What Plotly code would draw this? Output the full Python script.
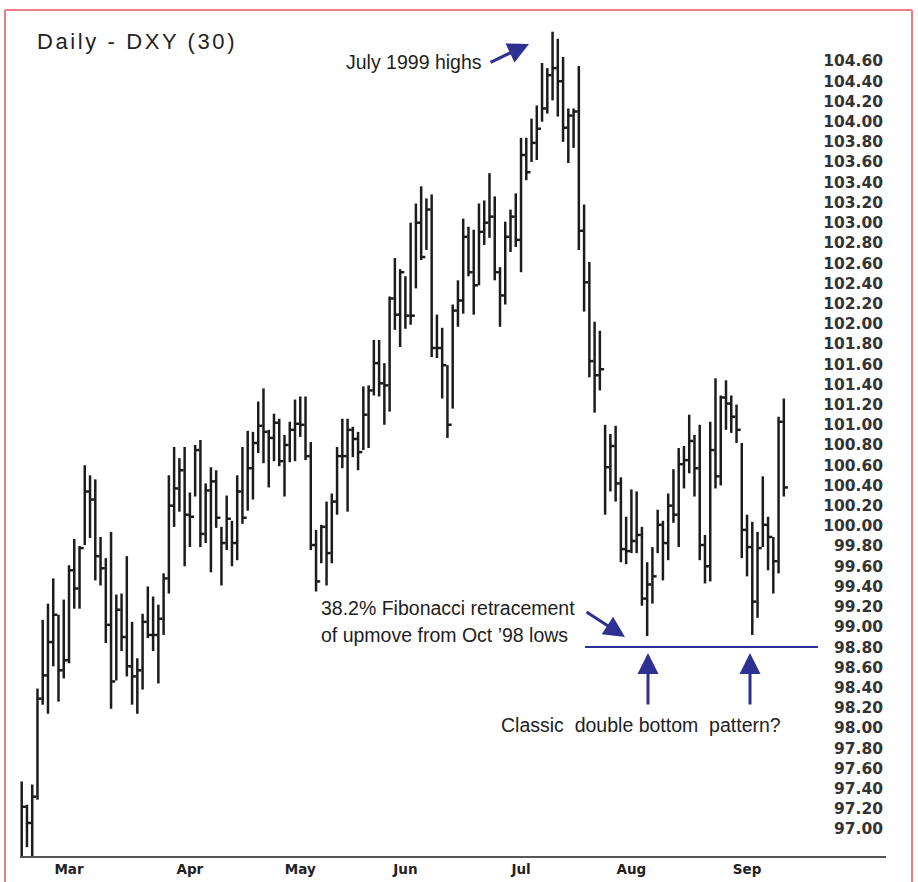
import plotly.graph_objects as go

# ---------------- data ----------------
highs = [97.47, 97.24, 97.44, 98.39, 99.07, 99.23, 99.48, 99.12, 99.27, 99.61,
         99.87, 99.80, 100.60, 100.50, 100.46, 99.89, 99.68, 99.94, 99.32, 99.33,
         99.70, 99.05, 98.69, 99.13, 99.40, 99.30, 99.22, 99.53, 100.50, 100.78,
         100.67, 100.78, 100.33, 100.80, 100.85, 100.42, 100.58, 100.55, 99.99, 100.30,
         100.05, 100.50, 100.78, 100.94, 100.93, 101.23, 101.36, 100.95, 101.11, 101.06,
         100.90, 101.03, 101.25, 101.28, 101.28, 100.83, 99.96, 100.01, 100.24, 100.32,
         100.78, 101.06, 101.06, 100.98, 100.93, 101.38, 101.39, 101.84, 101.84, 101.61,
         102.27, 102.65, 102.54, 102.47, 103.00, 103.19, 103.36, 103.24, 103.28, 102.09,
         101.96, 101.59, 102.19, 102.43, 103.04, 102.96, 102.93, 103.19, 103.22, 103.49,
         103.26, 102.56, 103.01, 103.13, 103.29, 103.84, 103.84, 104.03, 104.16, 104.58,
         104.53, 104.89, 104.82, 104.64, 104.13, 104.13, 104.55, 103.18, 102.61, 102.02,
         101.93, 101.00, 100.91, 100.99, 100.48, 100.09, 100.36, 100.34, 99.99, 99.64,
         99.79, 100.16, 100.05, 100.32, 100.56, 100.77, 100.79, 101.10, 100.90, 101.00,
         99.91, 101.03, 101.46, 101.29, 101.44, 101.29, 101.20, 100.82, 100.11, 100.04,
         99.94, 100.49, 100.09, 99.89, 101.08, 101.26]
lows = [96.60, 96.82, 96.60, 97.29, 98.23, 98.14, 98.61, 98.26, 98.49, 98.64,
        99.18, 99.18, 99.81, 99.88, 99.46, 99.41, 98.84, 98.19, 98.47, 98.76,
        98.51, 98.23, 98.14, 98.38, 98.89, 98.76, 98.44, 98.92, 99.33, 99.99,
        100.14, 99.60, 99.79, 100.29, 99.79, 99.83, 99.54, 99.98, 99.41, 99.76,
        99.60, 99.66, 100.02, 100.15, 100.26, 100.72, 100.62, 100.38, 100.64, 100.59,
        100.29, 100.63, 100.64, 100.88, 100.65, 99.76, 99.35, 99.63, 99.41, 99.63,
        100.11, 100.57, 100.14, 100.68, 100.55, 100.75, 100.77, 101.29, 101.28, 101.00,
        101.13, 101.94, 101.77, 101.95, 101.99, 102.35, 102.63, 102.73, 101.67, 101.66,
        101.26, 100.87, 101.16, 101.97, 102.10, 102.47, 102.09, 102.38, 102.78, 102.85,
        102.43, 101.97, 102.19, 102.71, 102.76, 102.51, 103.42, 103.60, 103.62, 104.00,
        104.08, 104.21, 104.05, 103.80, 103.59, 103.74, 102.73, 102.12, 101.47, 101.12,
        101.34, 100.11, 100.34, 100.24, 99.64, 99.62, 99.73, 99.73, 99.21, 98.91,
        99.23, 99.73, 99.46, 99.66, 100.03, 99.79, 100.37, 100.52, 100.29, 99.66,
        99.43, 99.45, 100.37, 100.40, 100.95, 100.92, 100.82, 99.68, 99.50, 98.92,
        99.09, 99.79, 99.56, 99.33, 99.53, 100.29]
closes = [97.22, 97.06, 97.32, 98.29, 98.52, 98.85, 99.12, 98.57, 98.67, 99.56,
          99.38, 99.78, 100.34, 100.26, 99.70, 99.58, 99.02, 98.46, 99.17, 98.90,
          98.61, 98.51, 98.57, 99.05, 98.92, 98.92, 99.08, 99.48, 100.20, 100.37,
          100.55, 100.11, 100.09, 100.75, 99.92, 100.35, 100.44, 100.08, 99.83, 100.07,
          99.83, 100.34, 100.08, 100.57, 100.82, 100.99, 100.93, 100.87, 101.02, 100.64,
          100.80, 100.95, 101.01, 101.00, 100.69, 99.81, 99.45, 99.99, 99.73, 100.24,
          100.69, 100.69, 100.95, 100.86, 100.73, 101.10, 101.34, 101.61, 101.41, 101.39,
          102.25, 102.09, 102.51, 102.08, 102.08, 103.00, 102.66, 103.13, 101.76, 101.76,
          101.59, 101.00, 102.13, 102.23, 102.86, 102.51, 102.38, 102.91, 103.00, 103.06,
          102.51, 102.28, 102.86, 103.06, 102.83, 103.67, 103.50, 103.79, 103.93, 104.13,
          104.46, 104.53, 104.40, 103.94, 104.06, 104.10, 102.92, 102.41, 101.63, 101.49,
          101.55, 100.58, 100.79, 100.42, 99.77, 99.75, 99.85, 99.91, 99.28, 99.42,
          99.50, 100.01, 99.83, 100.20, 100.11, 100.61, 100.65, 100.84, 100.57, 99.81,
          99.60, 100.75, 100.49, 101.27, 101.21, 101.08, 100.95, 99.96, 99.79, 99.25,
          99.78, 100.01, 99.89, 99.65, 101.03, 100.38]

month_labels = ["Mar", "Apr", "May", "Jun", "Jul", "Aug", "Sep"]
first_march_bar = 10
trading_days_per_month = [23, 21, 20, 22, 21, 22]   # Mar..Aug

fib_level = 98.80
y_ticks = [round(97.0 + 0.2 * k, 2) for k in range(39)]

# ---------------- geometry helpers (layout only) ----------------
W, H = 918, 882
L_M, R_M, T_M, B_M = 20, 32, 22, 26
PW, PH = W - L_M - R_M, H - T_M - B_M


def px(x):
    return (x - L_M) / PW


def py(y):
    return (H - B_M - y) / PH


# ---------------- bars ----------------
n = len(highs)
idx = list(range(1, n + 1))
xs, ys = [], []
for i, h, l, c in zip(idx, highs, lows, closes):
    xs += [i, i, None, i, i + 0.8, None]
    ys += [l, h, None, c, c, None]

month_ticks = [first_march_bar]
for d in trading_days_per_month:
    month_ticks.append(month_ticks[-1] + d)

fig = go.Figure()
fig.add_trace(go.Scatter(x=xs, y=ys, mode="lines",
                         line=dict(color="#1c1c1c", width=2.5),
                         hoverinfo="skip", showlegend=False))

BLUE = "#2e3192"
TXT = "#1e1e1e"
ann_font = dict(family="Liberation Sans Narrow, Liberation Sans, Arial, sans-serif",
                size=19.5, color=TXT)

annotations = [
    dict(text='<span style="letter-spacing:2.6px">Daily - DXY (30)</span>',
         xref="paper", yref="paper", x=px(35), y=py(42),
         xanchor="left", yanchor="middle", showarrow=False,
         font=dict(family="Liberation Sans, Arial, sans-serif", size=22, color="#222")),
    dict(text="July 1999 highs", xref="paper", yref="paper", x=px(484), y=py(62),
         xanchor="right", yanchor="middle", showarrow=False, font=ann_font),
    dict(text="38.2% Fibonacci retracement", xref="paper", yref="paper", x=px(319), y=py(608),
         xanchor="left", yanchor="middle", showarrow=False, font=ann_font),
    dict(text="of upmove from Oct \u201998 lows", xref="paper", yref="paper", x=px(319), y=py(635),
         xanchor="left", yanchor="middle", showarrow=False, font=ann_font),
    dict(text="Classic  double bottom  pattern?", xref="paper", yref="paper", x=px(641), y=py(725),
         xanchor="center", yanchor="middle", showarrow=False, font=ann_font),
]
arrows = [((529, 44), (489, 63)), ((625, 637), (585, 611)),
          ((648, 653), (648, 706)), ((750, 653), (750, 706))]
for (tx, ty), (sx, sy) in arrows:
    annotations.append(dict(text="", xref="paper", yref="paper", x=px(tx), y=py(ty),
                            ax=sx - tx, ay=sy - ty, showarrow=True, arrowhead=2,
                            arrowsize=1.4, arrowwidth=3, arrowcolor=BLUE))

FRAME = "#ef7b84"
shapes = [
    dict(type="line", xref="paper", yref="y", x0=px(585), x1=px(818), y0=fib_level, y1=fib_level,
         line=dict(color=BLUE, width=2)),
    dict(type="line", xref="paper", yref="paper", x0=px(5), x1=px(5), y0=py(10), y1=py(884),
         line=dict(color=FRAME, width=2)),
    dict(type="line", xref="paper", yref="paper", x0=px(5), x1=px(912), y0=py(10), y1=py(10),
         line=dict(color=FRAME, width=2)),
    dict(type="line", xref="paper", yref="paper", x0=px(912), x1=px(912), y0=py(10), y1=py(884),
         line=dict(color=FRAME, width=2)),
]

x_lo = 1 - (21.7 - L_M) / 5.256
x_hi = 1 + (W - R_M - 21.7) / 5.256
y_lo = 100.8 - (H - B_M - 445) / 101.05
y_hi = 100.8 + (445 - T_M) / 101.05

fig.update_layout(
    width=W, height=H,
    margin=dict(l=L_M, r=R_M, t=T_M, b=B_M, autoexpand=False),
    paper_bgcolor="white", plot_bgcolor="white",
    showlegend=False,
    annotations=annotations, shapes=shapes,
    xaxis=dict(range=[x_lo, x_hi], tickvals=month_ticks, ticktext=month_labels,
               showgrid=False, zeroline=False, showline=True, linecolor="#555",
               linewidth=2, ticks="", fixedrange=True, automargin=False,
               tickfont=dict(family="DejaVu Sans, sans-serif", size=13.5,
                             weight="bold", color="#222")),
    yaxis=dict(range=[y_lo, y_hi], side="right", ticklabelposition="inside",
               tickvals=y_ticks, tickformat=".2f", showgrid=False, zeroline=False,
               showline=False, ticks="", automargin=False, fixedrange=True,
               tickfont=dict(family="DejaVu Sans, Verdana, sans-serif", size=15.5,
                             weight="bold", color="#333")),
)

fig.write_html("out.html", config={"displayModeBar": False, "staticPlot": True},
               post_script="document.body.style.margin='0';document.body.style.overflow='hidden';")
